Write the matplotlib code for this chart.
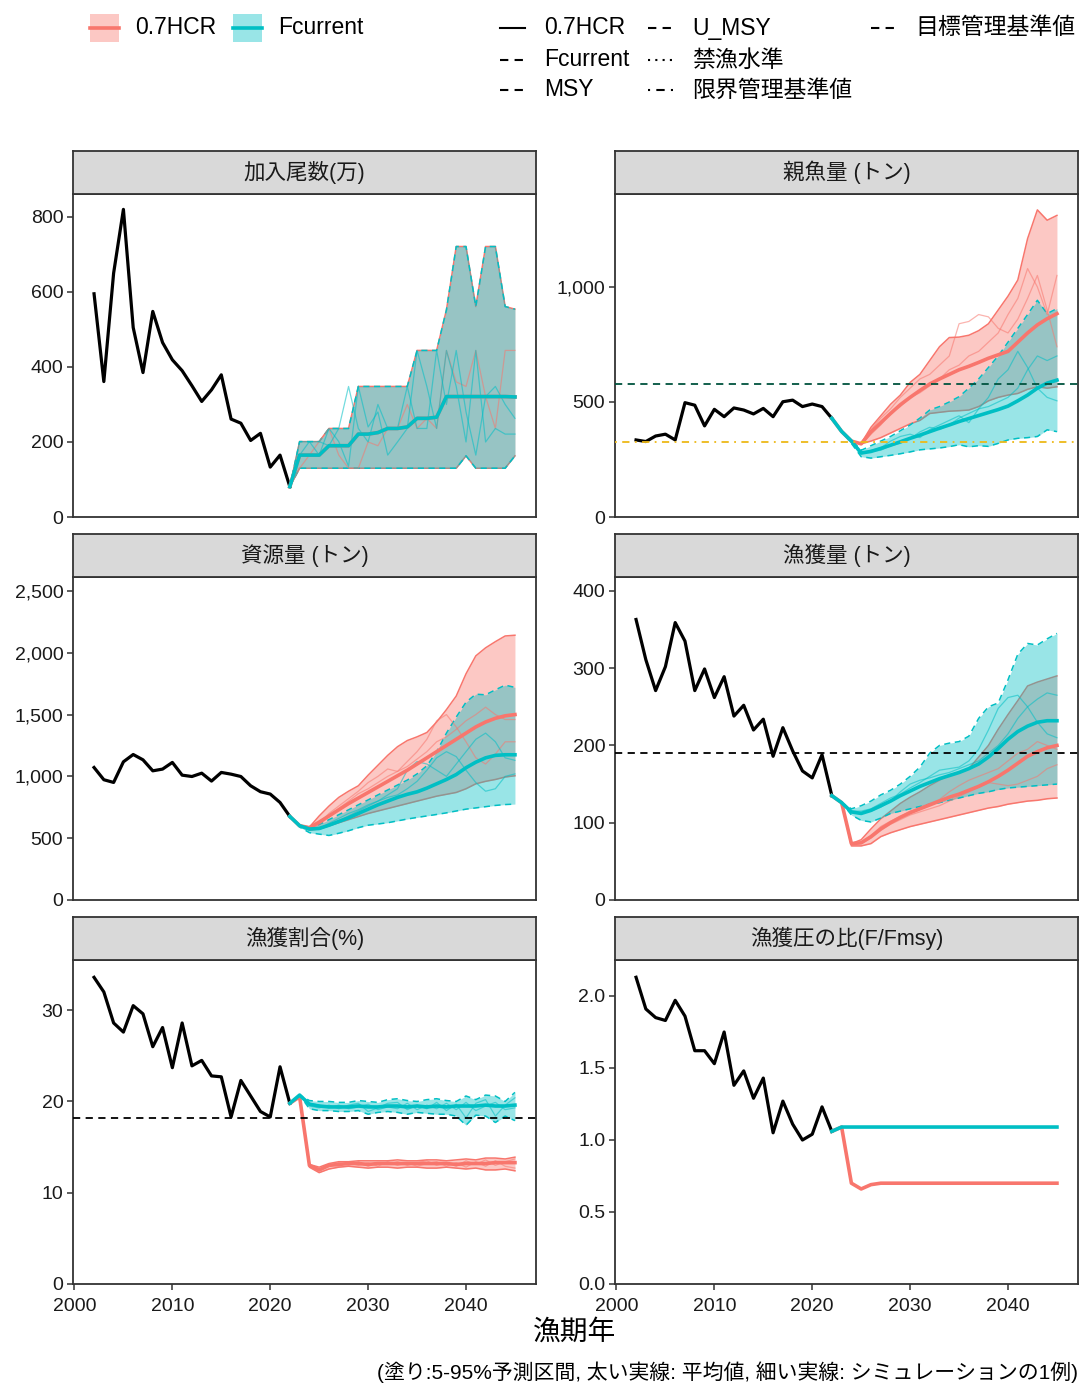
import matplotlib
matplotlib.use("Agg")
import matplotlib.pyplot as plt
from matplotlib.lines import Line2D
from matplotlib.patches import Rectangle
from matplotlib.ticker import FuncFormatter

plt.rcParams['font.family'] = ['Liberation Sans', 'Noto Sans CJK JP']

RED = '#F8766D'
TEAL = '#00BFC4'

years_hist = list(range(2002, 2023))
years_proj = list(range(2022, 2046))

# 加入尾数(万) -- same recruitment for both scenarios
rec_hist = [595, 361, 650, 820, 505, 385, 548, 465, 419, 390, 350, 308, 339, 379, 261, 250, 204, 223, 133, 165, 81]
rec_mean = [81, 165, 165, 165, 190, 190, 190, 221, 221, 225, 236, 236, 240, 263, 263, 266, 321, 321, 321, 321, 321, 321, 321, 320]
rec_hi = [81, 201, 201, 201, 236, 236, 236, 348, 348, 348, 348, 348, 348, 444, 444, 444, 552, 721, 721, 561, 721, 721, 561, 554]
rec_lo = [81, 130, 130, 130, 130, 130, 130, 130, 130, 130, 130, 130, 130, 130, 130, 130, 130, 130, 163, 130, 130, 130, 130, 163]
rec_sim1 = [81, 201, 201, 165, 236, 201, 135, 348, 240, 280, 165, 200, 236, 444, 348, 236, 444, 348, 200, 444, 200, 236, 221, 221]
rec_sim2 = [81, 165, 201, 201, 190, 236, 348, 236, 200, 300, 236, 236, 348, 236, 236, 444, 300, 444, 280, 165, 321, 348, 300, 263]
rec_sim3 = [81, 130, 165, 201, 236, 165, 130, 130, 200, 190, 236, 236, 300, 236, 263, 236, 444, 360, 348, 444, 321, 236, 444, 444]

# 親魚量 (トン)
ssb_hist = [335, 328, 352, 360, 335, 497, 486, 396, 468, 436, 474, 465, 448, 472, 436, 501, 508, 480, 491, 480, 429]
ssb_hcr_mean = [429, 372, 330, 318, 370, 410, 450, 488, 520, 550, 578, 600, 620, 640, 655, 672, 690, 705, 720, 760, 800, 835, 862, 884]
ssb_hcr_hi = [429, 372, 330, 320, 390, 440, 490, 530, 585, 620, 680, 740, 780, 782, 790, 810, 840, 900, 960, 1030, 1210, 1335, 1290, 1311]
ssb_hcr_lo = [429, 372, 330, 318, 330, 345, 365, 385, 405, 420, 450, 455, 460, 462, 465, 480, 505, 520, 530, 537, 555, 566, 560, 566]
ssb_fc_mean = [429, 372, 330, 278, 285, 298, 312, 327, 342, 356, 371, 386, 400, 415, 428, 441, 454, 467, 482, 505, 530, 560, 582, 595]
ssb_fc_hi = [429, 372, 335, 290, 310, 330, 350, 375, 400, 430, 465, 480, 500, 523, 560, 600, 650, 700, 760, 820, 880, 942, 884, 906]
ssb_fc_lo = [429, 372, 320, 262, 256, 262, 268, 275, 283, 292, 296, 300, 306, 314, 305, 310, 307, 320, 335, 342, 345, 350, 379, 371]
ssb_hcr_sim1 = [429, 372, 330, 320, 380, 430, 470, 520, 560, 600, 620, 660, 700, 840, 850, 880, 870, 820, 800, 860, 950, 1050, 900, 740]
ssb_hcr_sim2 = [429, 372, 330, 318, 360, 400, 450, 480, 520, 540, 570, 600, 640, 660, 700, 720, 760, 800, 880, 950, 1080, 1000, 880, 1050]
ssb_fc_sim1 = [429, 372, 330, 280, 290, 300, 330, 350, 360, 345, 380, 400, 420, 440, 410, 470, 520, 600, 640, 720, 650, 560, 520, 505]
ssb_fc_sim2 = [429, 372, 330, 275, 285, 290, 310, 320, 340, 370, 390, 380, 400, 430, 450, 470, 480, 500, 520, 560, 640, 700, 680, 700]
ssb_target = 578
ssb_limit = 325

# 資源量 (トン)
bio_hist = [1072, 973, 951, 1118, 1177, 1134, 1045, 1059, 1113, 1010, 999, 1026, 962, 1032, 1018, 999, 924, 876, 857, 789, 676]
bio_hcr_mean = [676, 601, 585, 630, 680, 730, 780, 825, 870, 915, 960, 1005, 1050, 1100, 1150, 1200, 1250, 1300, 1350, 1400, 1440, 1470, 1490, 1500]
bio_hcr_hi = [676, 605, 590, 680, 760, 830, 880, 924, 1010, 1090, 1170, 1240, 1290, 1320, 1355, 1440, 1540, 1650, 1830, 1975, 2040, 2090, 2136, 2142]
bio_hcr_lo = [676, 600, 565, 575, 600, 625, 650, 675, 700, 720, 740, 760, 780, 800, 820, 840, 855, 870, 900, 940, 960, 975, 995, 1005]
bio_fc_mean = [676, 601, 574, 579, 605, 635, 665, 700, 735, 770, 800, 830, 855, 875, 905, 940, 975, 1015, 1070, 1115, 1150, 1170, 1175, 1175]
bio_fc_hi = [676, 601, 585, 610, 650, 690, 730, 770, 810, 850, 890, 930, 970, 1020, 1086, 1200, 1350, 1480, 1600, 1665, 1660, 1700, 1738, 1720]
bio_fc_lo = [676, 590, 545, 533, 522, 540, 560, 585, 605, 615, 625, 640, 655, 668, 680, 692, 705, 720, 735, 745, 755, 765, 772, 776]
bio_hcr_sim1 = [676, 601, 575, 620, 700, 760, 820, 880, 950, 1000, 1060, 1040, 1120, 1200, 1300, 1450, 1500, 1400, 1280, 1150, 1100, 1180, 1280, 1280]
bio_hcr_sim2 = [676, 601, 575, 610, 670, 740, 800, 860, 900, 950, 1000, 1040, 1080, 1140, 1200, 1280, 1320, 1380, 1450, 1500, 1560, 1500, 1460, 1460]
bio_fc_sim1 = [676, 601, 574, 570, 600, 640, 680, 720, 760, 800, 830, 850, 900, 960, 1050, 1150, 1200, 1160, 1050, 950, 880, 900, 1000, 1020]
bio_fc_sim2 = [676, 601, 574, 575, 620, 660, 700, 730, 770, 800, 850, 900, 1050, 1120, 1100, 1050, 1000, 1100, 1200, 1300, 1350, 1280, 1150, 1130]

# 漁獲量 (トン)
catch_hist = [363, 311, 271, 302, 359, 335, 271, 299, 262, 289, 238, 252, 220, 234, 186, 223, 193, 167, 158, 188, 135]
catch_hcr_mean = [135, 126, 73, 74, 82, 92, 100, 107, 113, 118, 123, 128, 133, 137, 142, 147, 153, 160, 168, 177, 186, 192, 197, 200]
catch_hcr_hi = [135, 126, 73, 78, 92, 105, 115, 125, 133, 140, 148, 155, 162, 165, 170, 185, 200, 221, 240, 258, 277, 282, 286, 290]
catch_hcr_lo = [135, 126, 70, 70, 73, 82, 87, 91, 95, 98, 101, 104, 107, 110, 113, 116, 119, 121, 124, 126, 128, 129, 131, 132]
catch_fc_mean = [135, 126, 114, 112, 116, 122, 128, 135, 141, 147, 152, 157, 161, 165, 170, 176, 185, 196, 208, 218, 225, 230, 232, 232]
catch_fc_hi = [135, 126, 118, 122, 128, 136, 142, 150, 160, 172, 190, 200, 203, 205, 212, 235, 250, 255, 285, 318, 332, 330, 338, 345]
catch_fc_lo = [135, 126, 110, 103, 101, 106, 112, 115, 118, 121, 124, 126, 129, 132, 135, 138, 140, 143, 145, 146, 147, 148, 149, 150]
catch_hcr_sim1 = [135, 126, 73, 75, 83, 95, 102, 108, 115, 120, 125, 130, 140, 148, 155, 160, 165, 170, 180, 190, 195, 205, 200, 195]
catch_hcr_sim2 = [135, 126, 72, 73, 80, 90, 98, 104, 110, 114, 118, 122, 128, 134, 140, 146, 152, 150, 148, 150, 155, 160, 170, 175]
catch_fc_sim1 = [135, 126, 115, 115, 118, 125, 132, 137, 145, 152, 160, 168, 170, 172, 180, 195, 220, 248, 262, 265, 250, 230, 215, 210]
catch_fc_sim2 = [135, 126, 113, 112, 115, 120, 128, 140, 150, 155, 158, 162, 165, 170, 175, 180, 190, 200, 215, 235, 250, 260, 268, 265]
catch_msy = 190.5

# 漁獲割合(%)
u_hist = [33.6, 32.0, 28.6, 27.6, 30.5, 29.6, 26.0, 28.1, 23.7, 28.6, 23.9, 24.5, 22.8, 22.7, 18.3, 22.3, 20.6, 18.9, 18.3, 23.8, 19.8]
u_hcr_mean = [19.8, 20.5, 13.0, 12.5, 13.0, 13.1, 13.2, 13.2, 13.1, 13.2, 13.2, 13.2, 13.2, 13.2, 13.2, 13.2, 13.2, 13.1, 13.2, 13.2, 13.2, 13.3, 13.3, 13.3]
u_hcr_hi = [19.8, 20.5, 13.1, 12.8, 13.2, 13.4, 13.4, 13.5, 13.5, 13.5, 13.5, 13.6, 13.5, 13.5, 13.6, 13.6, 13.5, 13.6, 13.7, 13.6, 13.8, 13.8, 13.7, 13.9]
u_hcr_lo = [19.8, 20.5, 12.8, 12.2, 12.6, 12.8, 12.9, 12.8, 12.7, 12.8, 12.8, 12.7, 12.8, 12.8, 12.7, 12.7, 12.8, 12.7, 12.6, 12.7, 12.5, 12.5, 12.6, 12.4]
u_fc_mean = [19.8, 20.7, 19.7, 19.5, 19.4, 19.4, 19.4, 19.5, 19.4, 19.4, 19.5, 19.5, 19.4, 19.5, 19.4, 19.5, 19.4, 19.5, 19.5, 19.5, 19.6, 19.5, 19.5, 19.6]
u_fc_hi = [19.8, 20.7, 20.1, 20.0, 20.0, 19.9, 19.9, 20.1, 20.0, 19.9, 20.2, 20.3, 20.1, 20.0, 20.2, 20.3, 20.1, 20.0, 20.6, 20.2, 20.7, 20.6, 20.0, 21.0]
u_fc_lo = [19.8, 20.7, 19.2, 19.0, 19.0, 18.9, 18.9, 19.0, 18.6, 18.8, 18.9, 18.8, 18.6, 18.8, 18.7, 18.6, 18.6, 18.4, 17.4, 18.5, 18.4, 17.7, 18.4, 17.9]
u_hcr_sim1 = [19.8, 20.5, 12.9, 12.4, 12.9, 13.3, 13.0, 13.4, 12.9, 13.3, 13.1, 13.4, 13.0, 13.3, 13.5, 13.0, 13.3, 12.9, 13.5, 13.1, 13.6, 13.0, 13.4, 13.7]
u_hcr_sim2 = [19.8, 20.5, 13.0, 12.6, 13.1, 12.9, 13.3, 13.0, 13.3, 12.9, 13.4, 13.0, 13.3, 12.9, 13.2, 13.4, 12.9, 13.3, 12.8, 13.4, 12.9, 13.5, 12.9, 12.7]
u_fc_sim1 = [19.8, 20.7, 19.5, 19.3, 19.6, 19.2, 19.6, 19.8, 18.9, 19.3, 19.8, 19.9, 19.1, 19.6, 19.2, 19.9, 19.0, 19.7, 18.2, 19.8, 20.2, 18.4, 19.6, 20.4]
u_fc_sim2 = [19.8, 20.7, 19.8, 19.6, 19.3, 19.6, 19.2, 19.4, 19.7, 19.1, 19.4, 19.2, 19.8, 19.1, 19.6, 19.2, 19.8, 19.1, 19.9, 19.0, 19.5, 19.9, 19.1, 19.3]
u_msy = 18.2

# 漁獲圧の比(F/Fmsy)
f_hist = [2.13, 1.91, 1.85, 1.83, 1.97, 1.86, 1.62, 1.62, 1.53, 1.75, 1.38, 1.48, 1.29, 1.43, 1.05, 1.27, 1.11, 1.00, 1.04, 1.23, 1.06]
f_hcr_mean = [1.06, 1.09, 0.70, 0.66, 0.69, 0.70, 0.70, 0.70, 0.70, 0.70, 0.70, 0.70, 0.70, 0.70, 0.70, 0.70, 0.70, 0.70, 0.70, 0.70, 0.70, 0.70, 0.70, 0.70]
f_fc_mean = [1.06, 1.09, 1.09, 1.09, 1.09, 1.09, 1.09, 1.09, 1.09, 1.09, 1.09, 1.09, 1.09, 1.09, 1.09, 1.09, 1.09, 1.09, 1.09, 1.09, 1.09, 1.09, 1.09, 1.09]

W, H = 1081, 1385
fig = plt.figure(figsize=(W / 100, H / 100), dpi=100)


def fx(x):
    return x / W


def fy(y):
    return 1 - y / H


def comma(v, pos):
    return f"{int(v):,}"


def dec1(v, pos):
    return f"{v:.1f}"


panels = [
    dict(title='加入尾数(万)', hist=rec_hist,
         hcr=(rec_mean, rec_lo, rec_hi, [rec_sim3]), fc=(rec_mean, rec_lo, rec_hi, [rec_sim1, rec_sim2]),
         ylim=861, yticks=[0, 200, 400, 600, 800], fmt=comma, refs=[]),
    dict(title='親魚量 (トン)', hist=ssb_hist,
         hcr=(ssb_hcr_mean, ssb_hcr_lo, ssb_hcr_hi, [ssb_hcr_sim1, ssb_hcr_sim2]),
         fc=(ssb_fc_mean, ssb_fc_lo, ssb_fc_hi, [ssb_fc_sim1, ssb_fc_sim2]),
         ylim=1404, yticks=[0, 500, 1000], fmt=comma,
         refs=[(ssb_target, '#00533E', (0, (4, 3))), (ssb_limit, '#EDB918', (0, (1, 3, 4, 3)))]),
    dict(title='資源量 (トン)', hist=bio_hist,
         hcr=(bio_hcr_mean, bio_hcr_lo, bio_hcr_hi, [bio_hcr_sim1, bio_hcr_sim2]),
         fc=(bio_fc_mean, bio_fc_lo, bio_fc_hi, [bio_fc_sim1, bio_fc_sim2]),
         ylim=2613, yticks=[0, 500, 1000, 1500, 2000, 2500], fmt=comma, refs=[]),
    dict(title='漁獲量 (トン)', hist=catch_hist,
         hcr=(catch_hcr_mean, catch_hcr_lo, catch_hcr_hi, [catch_hcr_sim1, catch_hcr_sim2]),
         fc=(catch_fc_mean, catch_fc_lo, catch_fc_hi, [catch_fc_sim1, catch_fc_sim2]),
         ylim=418, yticks=[0, 100, 200, 300, 400], fmt=comma,
         refs=[(catch_msy, 'black', (0, (4, 3)))]),
    dict(title='漁獲割合(%)', hist=u_hist,
         hcr=(u_hcr_mean, u_hcr_lo, u_hcr_hi, [u_hcr_sim1, u_hcr_sim2]),
         fc=(u_fc_mean, u_fc_lo, u_fc_hi, [u_fc_sim1, u_fc_sim2]),
         ylim=35.5, yticks=[0, 10, 20, 30], fmt=comma,
         refs=[(u_msy, 'black', (0, (4, 3)))]),
    dict(title='漁獲圧の比(F/Fmsy)', hist=f_hist,
         hcr=(f_hcr_mean, None, None, []), fc=(f_fc_mean, None, None, []),
         ylim=2.25, yticks=[0, 0.5, 1.0, 1.5, 2.0], fmt=dec1, refs=[]),
]

col_x = [73, 615]
pw = 463
rows = [(151, 194, 517), (534, 577, 900), (917, 960, 1284)]

for i, p in enumerate(panels):
    r, c = divmod(i, 2)
    s_top, p_top, p_bot = rows[r]
    x0 = col_x[c]
    ax = fig.add_axes([fx(x0), fy(p_bot), pw / W, (p_bot - p_top) / H])
    st = fig.add_axes([fx(x0), fy(p_top), pw / W, (p_top - s_top) / H])

    # ribbons: 0.7HCR first, Fcurrent on top
    for k, (scen, col, ls) in enumerate([(p['hcr'], RED, '-'), (p['fc'], TEAL, (0, (4, 3)))]):
        mean, lo, hi, sims = scen
        z = 1 + k
        if lo is not None:
            ax.fill_between(years_proj, lo, hi, color=col, alpha=0.4, lw=0, zorder=z)
            ax.plot(years_proj, hi, color=col, lw=1.1, ls=ls, zorder=z + 0.1)
            ax.plot(years_proj, lo, color=col, lw=1.1, ls=ls, zorder=z + 0.1)
    for k, (scen, col) in enumerate([(p['hcr'], RED), (p['fc'], TEAL)]):
        for sim in scen[3]:
            ax.plot(years_proj, sim, color=col, lw=0.9, alpha=0.55, zorder=3 + 0.1 * k)

    ax.plot(years_hist, p['hist'], color='black', lw=2.3, zorder=4)
    ax.plot(years_proj, p['hcr'][0], color=RED, lw=2.6, zorder=5)
    ax.plot(years_proj, p['fc'][0], color=TEAL, lw=2.6, zorder=5.1)

    for val, col, ls in p['refs']:
        ax.axhline(val, color=col, lw=1.3, ls=ls, zorder=6)

    ax.set_xlim(1999.85, 2047.15)
    ax.set_ylim(0, p['ylim'])
    ax.set_yticks(p['yticks'])
    ax.yaxis.set_major_formatter(FuncFormatter(p['fmt']))
    ax.set_xticks([2000, 2010, 2020, 2030, 2040])
    ax.tick_params(axis='both', direction='out', length=4, width=1.1, color='#333333',
                   labelsize=14, labelcolor='#1a1a1a', pad=3)
    ax.tick_params(axis='x', pad=6)
    if r < 2:
        ax.tick_params(axis='x', bottom=False, labelbottom=False)
    for sp in ax.spines.values():
        sp.set_color('#333333')
        sp.set_linewidth(1.3)

    st.set_facecolor('#D9D9D9')
    st.set_xticks([])
    st.set_yticks([])
    for sp in st.spines.values():
        sp.set_color('#333333')
        sp.set_linewidth(1.3)
    st.text(0.5, 0.5, p['title'], ha='center', va='center', fontsize=15.5, color='#1a1a1a',
            transform=st.transAxes)

# legend: fill keys
for (x0, col, lab) in [(90, RED, '0.7HCR'), (233, TEAL, 'Fcurrent')]:
    fig.add_artist(Rectangle((fx(x0), fy(42)), 29 / W, 28 / H, transform=fig.transFigure,
                             facecolor=col, alpha=0.4, lw=0))
    fig.add_artist(Line2D([fx(x0), fx(x0 + 29)], [fy(28), fy(28)], transform=fig.transFigure,
                          color=col, lw=2.6))
    fig.text(fx(x0 + 45), fy(28), lab, ha='left', va='center', fontsize=16.5)

# legend: line types
lt_items = [
    (500, 28, '-', '0.7HCR'), (500, 60, (0, (4, 3)), 'Fcurrent'), (500, 90, (0, (4, 3)), 'MSY'),
    (648, 28, (0, (4, 3)), 'U_MSY'), (648, 60, (0, (1, 2.5)), '禁漁水準'), (648, 90, (0, (1, 3, 4, 3)), '限界管理基準値'),
    (871, 28, (0, (4, 3)), '目標管理基準値'),
]
for x0, y0, ls, lab in lt_items:
    fig.add_artist(Line2D([fx(x0), fx(x0 + 25)], [fy(y0), fy(y0)], transform=fig.transFigure,
                          color='black', lw=1.5, ls=ls))
    fig.text(fx(x0 + 44), fy(y0), lab, ha='left', va='center', fontsize=16.5)

fig.text(fx(575), fy(1333), '漁期年', ha='center', va='center', fontsize=20)
fig.text(fx(1078), fy(1372), '(塗り:5-95%予測区間, 太い実線: 平均値, 細い実線: シミュレーションの1例)',
         ha='right', va='center', fontsize=15)

fig.savefig('out.png', dpi=100)
